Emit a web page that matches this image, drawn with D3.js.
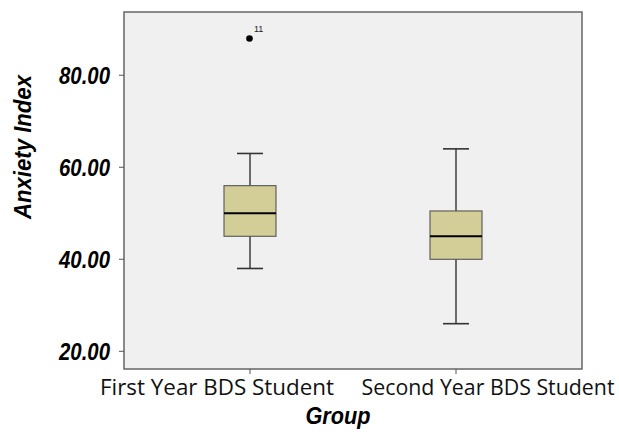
<!DOCTYPE html>
<html>
<head>
<meta charset="utf-8">
<script src="https://cdn.jsdelivr.net/npm/d3@7.9.0/dist/d3.min.js"></script>
<style>
    body { margin: 0; background: #fff; }
    svg { display: block; }
    .ytick { font-family: "Liberation Sans", Arial, sans-serif; font-weight: bold; font-style: italic; font-size: 24px; }
    .xtick { font-family: "Open Sans", "Noto Sans", sans-serif; font-size: 21px; fill: #111; }
    .title { font-family: "Liberation Sans", Arial, sans-serif; font-weight: bold; font-style: italic; font-size: 23px; }
</style>
</head>
<body>
<svg id="chart" width="619" height="436"></svg>
<script>
// Data
const groups = ['First Year BDS Student', 'Second Year BDS Student'];
const whiskerLow = [38, 26];
const q1 = [45, 40];
const median = [50, 45];
const q3 = [56, 50.5];
const whiskerHigh = [63, 64];
const outlierGroup = [0];
const outlierValue = [88];
const outlierId = ['11'];
const yTicks = [20, 40, 60, 80];

const svg = d3.select('#chart');
const plotLeft = 124, plotRight = 582, plotTop = 12, plotBottom = 369;

const y = d3.scaleLinear().domain([16.15, 93.75]).range([plotBottom, plotTop]);
const x = d3.scalePoint().domain(groups).range([250, 456]);

// plot area
svg.append('rect')
    .attr('x', plotLeft).attr('y', plotTop)
    .attr('width', plotRight - plotLeft).attr('height', plotBottom - plotTop)
    .attr('fill', '#f0f0f0')
    .attr('stroke', '#666').attr('stroke-width', 1.5);

// y axis ticks
let yAxis = svg.append('g');
yTicks.forEach((t) => {
    yAxis.append('line')
        .attr('x1', plotLeft - 5).attr('x2', plotLeft)
        .attr('y1', y(t)).attr('y2', y(t))
        .attr('stroke', '#555').attr('stroke-width', 1);
    yAxis.append('text')
        .attr('class', 'ytick')
        .attr('x', 110).attr('y', y(t) + 8.5)
        .attr('text-anchor', 'end')
        .attr('textLength', 51).attr('lengthAdjust', 'spacingAndGlyphs')
        .text(t.toFixed(2));
});

// x axis ticks + labels (labels sit a bit off-centre like the original)
const labelShift = [-33, 32];
const labelWidth = [234, 253];
groups.forEach((g, i) => {
    svg.append('line')
        .attr('x1', x(g)).attr('x2', x(g))
        .attr('y1', plotBottom).attr('y2', plotBottom + 5)
        .attr('stroke', '#555');
    svg.append('text')
        .attr('class', 'xtick')
        .attr('x', x(g) + labelShift[i]).attr('y', 395)
        .attr('text-anchor', 'middle')
        .attr('textLength', labelWidth[i]).attr('lengthAdjust', 'spacingAndGlyphs')
        .text(g);
});

// boxes
const boxW = 52, capW = 26;
groups.forEach((g, i) => {
    let cx = x(g);
    let b = svg.append('g');
    b.append('line')
        .attr('x1', cx).attr('x2', cx)
        .attr('y1', y(whiskerHigh[i])).attr('y2', y(whiskerLow[i]))
        .attr('stroke', '#333').attr('stroke-width', 1.4);
    [whiskerLow[i], whiskerHigh[i]].forEach((v) => {
        b.append('line')
            .attr('x1', cx - capW / 2).attr('x2', cx + capW / 2)
            .attr('y1', y(v)).attr('y2', y(v))
            .attr('stroke', '#333').attr('stroke-width', 1.6);
    });
    b.append('rect')
        .attr('x', cx - boxW / 2).attr('y', y(q3[i]))
        .attr('width', boxW).attr('height', y(q1[i]) - y(q3[i]))
        .attr('fill', '#d3ce98')
        .attr('stroke', '#555').attr('stroke-width', 1.1);
    b.append('line')
        .attr('x1', cx - boxW / 2).attr('x2', cx + boxW / 2)
        .attr('y1', y(median[i])).attr('y2', y(median[i]))
        .attr('stroke', '#000').attr('stroke-width', 2);
});

// outliers
outlierValue.forEach((v, i) => {
    let cx = x(groups[outlierGroup[i]]);
    svg.append('circle')
        .attr('cx', cx - 0.5).attr('cy', y(v)).attr('r', 3.3)
        .attr('fill', '#000');
    svg.append('text')
        .attr('x', cx + 4).attr('y', y(v) - 6)
        .attr('font-family', 'Liberation Sans, Arial, sans-serif')
        .attr('font-size', 9)
        .attr('fill', '#222')
        .text(outlierId[i]);
});

// axis titles
svg.append('text')
    .attr('class', 'title')
    .attr('transform', 'translate(31,147) rotate(-90)')
    .attr('text-anchor', 'middle')
    .attr('textLength', 144).attr('lengthAdjust', 'spacingAndGlyphs')
    .text('Anxiety Index');

svg.append('text')
    .attr('class', 'title')
    .attr('x', 338).attr('y', 424)
    .attr('text-anchor', 'middle')
    .attr('textLength', 65).attr('lengthAdjust', 'spacingAndGlyphs')
    .text('Group');
</script>
</body>
</html>
